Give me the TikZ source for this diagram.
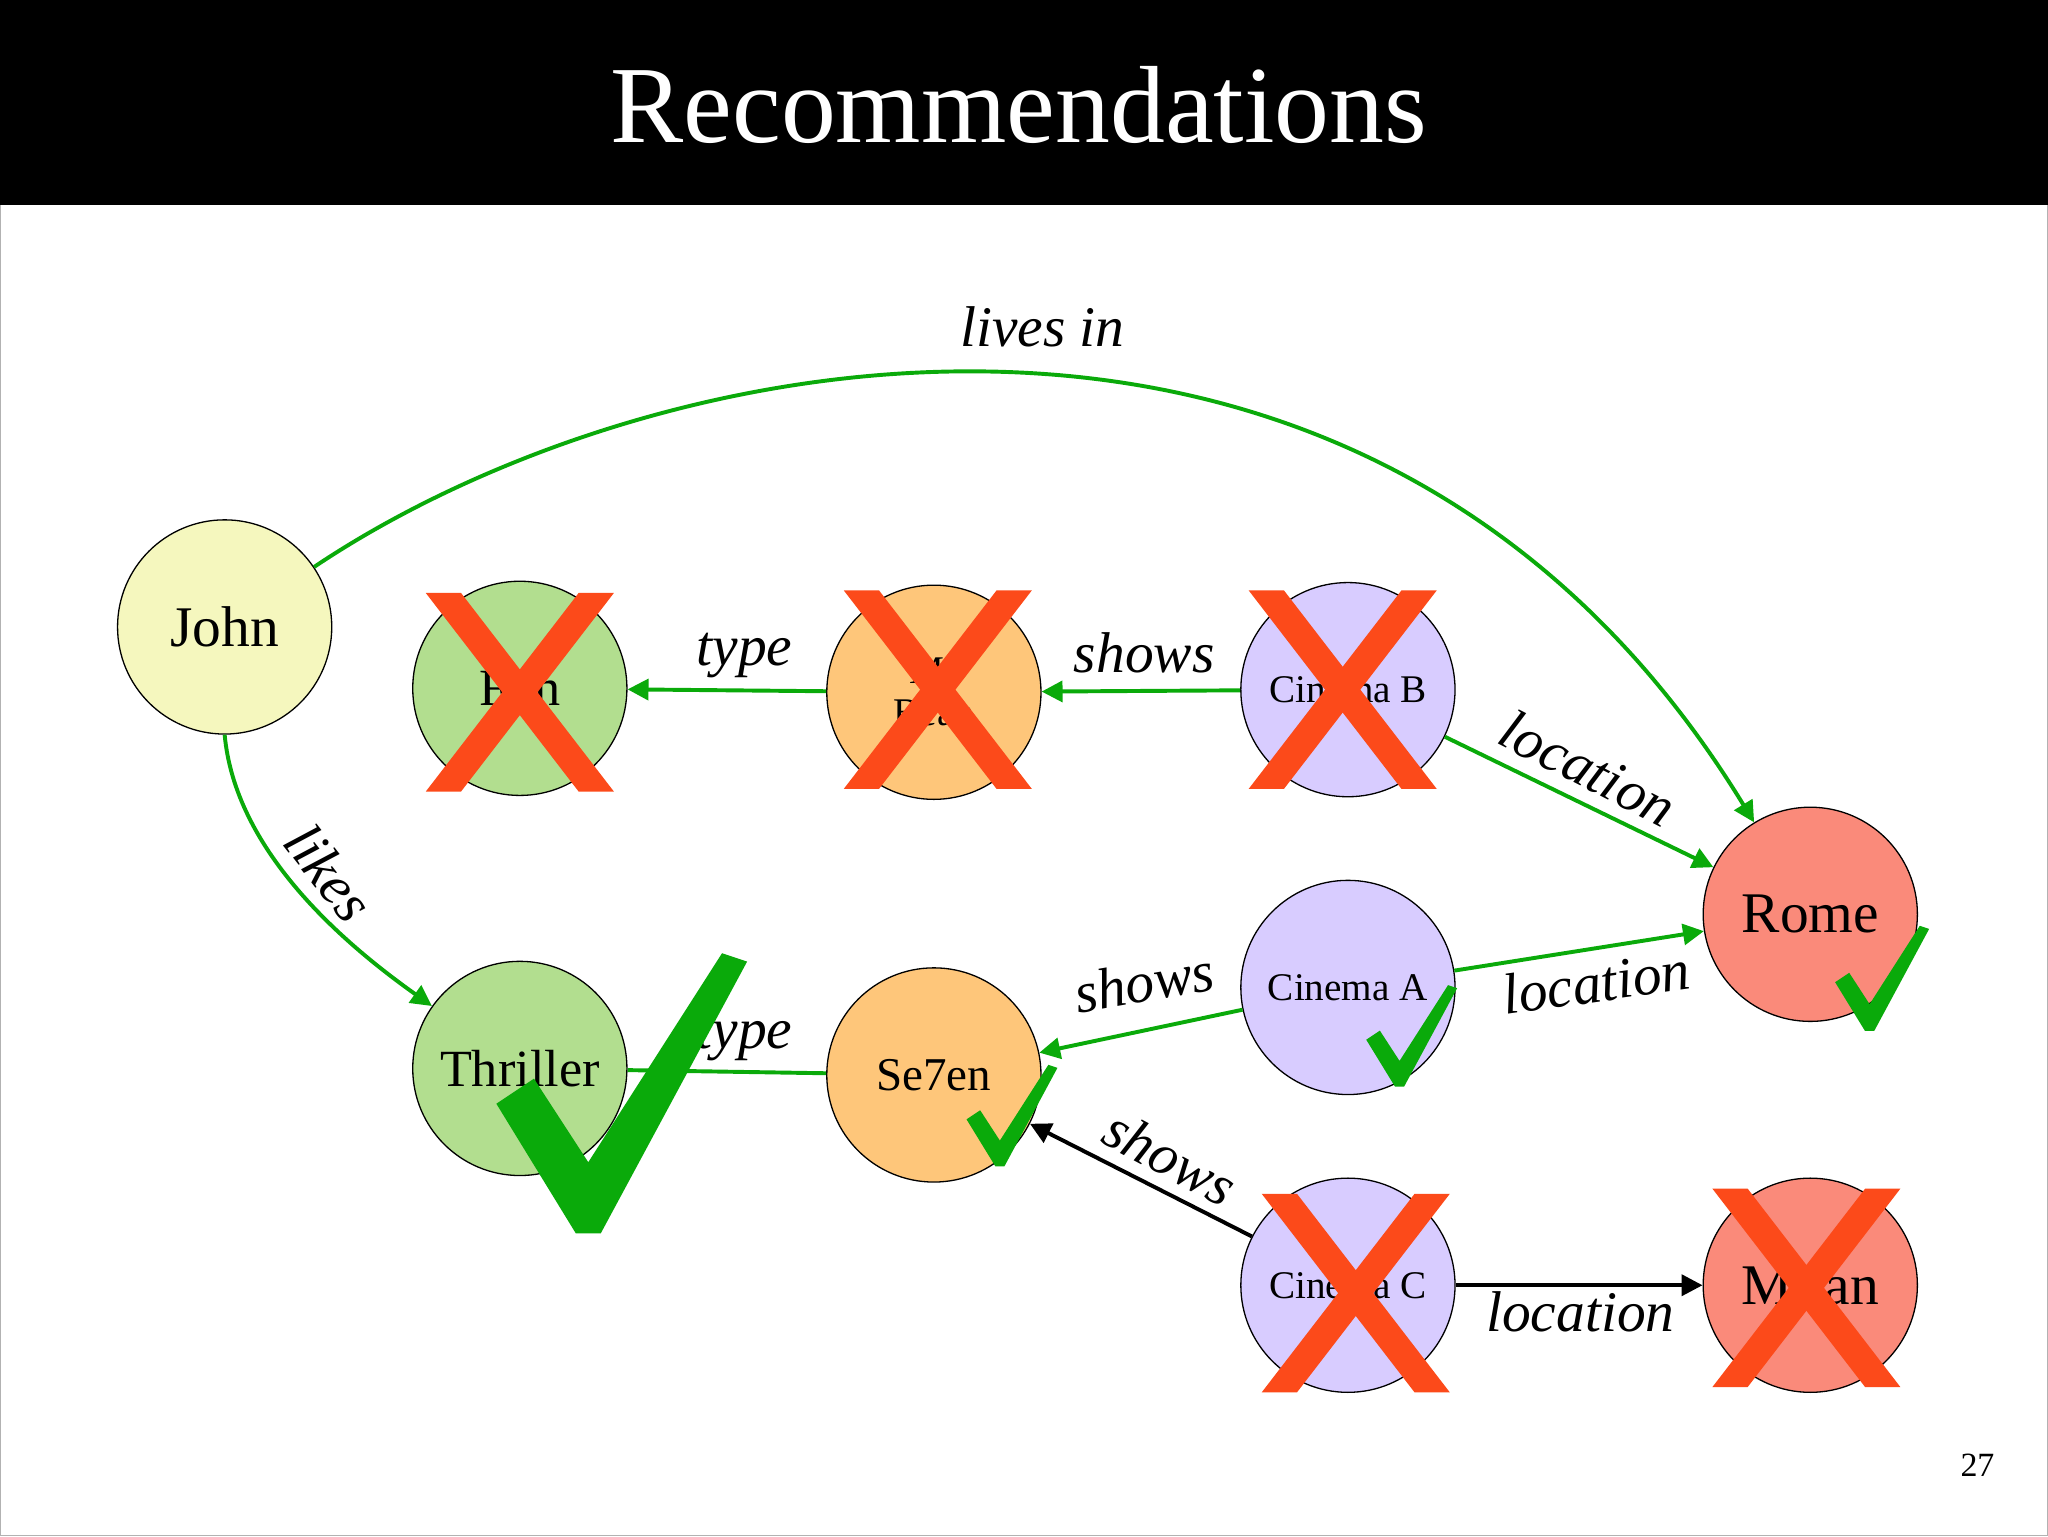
\documentclass[tikz,border=0pt]{standalone}
\usepackage{fontspec}
\setmainfont{Liberation Serif}
\usetikzlibrary{arrows.meta}
\definecolor{eg}{HTML}{0AAA0A}
\definecolor{xr}{HTML}{FC4A1A}
\newcommand{\fA}{\fontsize{30}{32}\selectfont}
\newcommand{\fB}{\fontsize{40}{42}\selectfont}
\newcommand{\fC}{\fontsize{44}{46}\selectfont}
\begin{document}
\begin{tikzpicture}[x=1pt,y=-1pt,
 nd/.style={circle,draw=black,line width=1pt,minimum size=164pt,inner sep=0pt},
 ge/.style={draw=eg,line width=3pt,-{Triangle[length=16pt,width=16pt]}},
 be/.style={draw=black,line width=3pt,-{Triangle[length=16pt,width=16pt]}},
 lb/.style={font=\fC\itshape},
 xm/.pic={\fill[xr] (-72,-76)--(-45,-76)--(72,76)--(45,76)--cycle;
          \fill[xr] (72,-76)--(45,-76)--(-72,76)--(-45,76)--cycle;},
 ck/.pic={\fill[eg] (0,0)--(18,-12)--(44,28)--(108,-72)--(120,-68)--(50,62)--(38,62)--cycle;}
]
\useasboundingbox (0,0) rectangle (1568,1176);
\fill[white] (0,0) rectangle (1568,1176);
\draw[gray!60] (0.5,0.5) rectangle (1567.5,1175.5);
\fill[black] (0,0) rectangle (1568,157);
\node[white,font=\fontsize{84}{84}\selectfont] (title) at (780,80) {Recommendations};
\node[font=\fontsize{26}{26}\selectfont] (pg) at (1514,1122) {27};

\node[nd,fill={rgb,255:red,245;green,247;blue,190},font=\fC] (john) at (172,480) {John};
\node[nd,fill={rgb,255:red,178;green,222;blue,143},font=\fB] (fun) at (398,527) {Fun};
\node[nd,fill={rgb,255:red,254;green,198;blue,122},align=center,font=\fA] (bean) at (715,530) {Mr\\Bean};
\node[nd,fill={rgb,255:red,216;green,204;blue,255},font=\fA] (cb) at (1032,528) {Cinema B};
\node[nd,fill={rgb,255:red,250;green,138;blue,122},font=\fC] (rome) at (1386,700) {Rome};
\node[nd,fill={rgb,255:red,216;green,204;blue,255},font=\fA] (ca) at (1032,756) {Cinema A};
\node[nd,fill={rgb,255:red,178;green,222;blue,143},font=\fB] (thr) at (398,818) {Thriller};
\node[nd,fill={rgb,255:red,254;green,198;blue,122},font=\fontsize{36}{38}\selectfont] (se) at (715,823) {Se7en};
\node[nd,fill={rgb,255:red,216;green,204;blue,255},font=\fA] (cc) at (1032,984) {Cinema C};
\node[nd,fill={rgb,255:red,250;green,138;blue,122},font=\fC] (mil) at (1386,984) {Milan};

\draw[ge] (john) .. controls (500,260) and (1050,150) .. (rome);
\node[lb] (l1) at (798,250) {lives in};
\draw[ge] (john.south) .. controls (180,650) and (260,720) .. (thr);
\node[lb,rotate=-52] (l2) at (252,668) {likes};
\draw[ge] (bean) -- (fun);
\node[lb] (l3) at (570,502) {type};
\draw[ge] (cb) -- (bean);
\node[lb] (l4) at (876,500) {shows};
\draw[ge] (cb) -- (rome);
\node[lb,rotate=-27] (l5) at (1216,588) {location};
\draw[ge] (ca) -- (rome);
\node[lb,rotate=8] (l6) at (1222,752) {location};
\draw[ge] (ca) -- (se);
\node[lb,rotate=10] (l7) at (876,752) {shows};
\draw[eg,line width=3pt] (se) -- (thr);
\node[lb] (l8) at (570,795) {type};
\draw[be] (cc) -- (se);
\node[lb,rotate=-28] (l9) at (896,886) {shows};
\draw[be] (cc) -- (mil);
\node[lb] (l10) at (1210,1004) {location};

\pic at (398,530) {xm};
\pic at (718,528) {xm};
\pic at (1028,528) {xm};
\pic at (1038,990) {xm};
\pic at (1383,986) {xm};

\pic[scale=1.6] at (380,845) {ck};
\pic[scale=0.58] at (740,857) {ck};
\pic[scale=0.58] at (1046,796) {ck};
\pic[scale=0.6] at (1405,752) {ck};
\end{tikzpicture}
\end{document}
